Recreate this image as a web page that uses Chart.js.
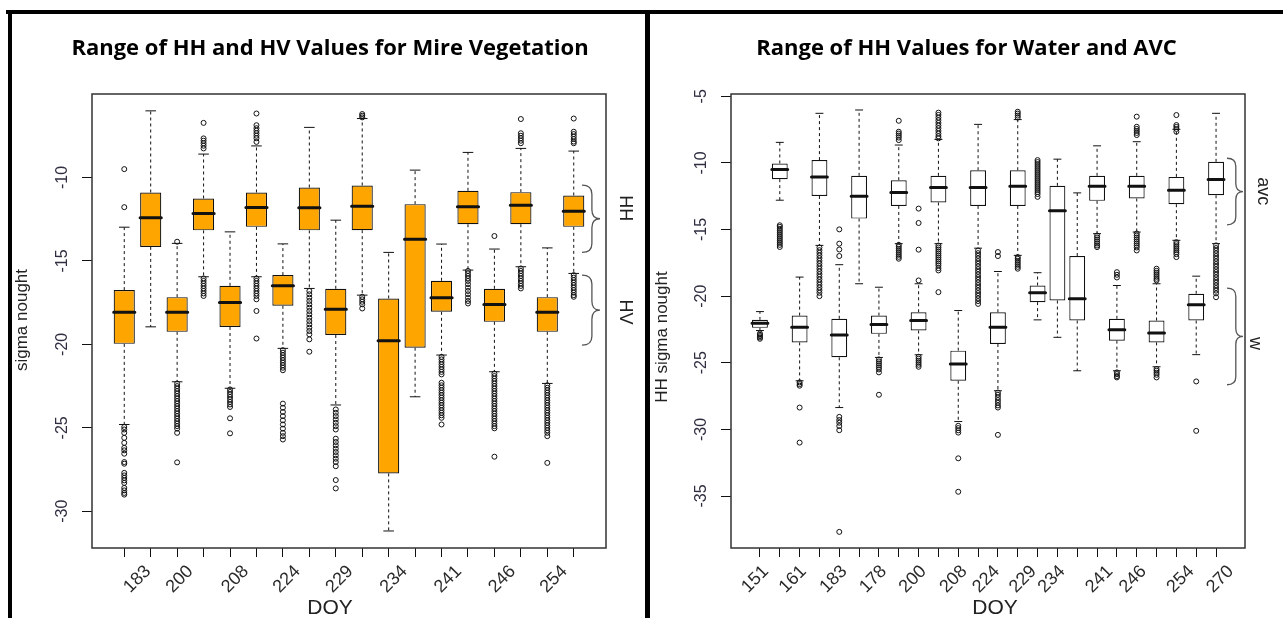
<!DOCTYPE html>
<html>
<head>
<meta charset="utf-8">
<script src="https://cdn.jsdelivr.net/npm/chart.js@4.4.1/dist/chart.umd.min.js"></script>
<style>
  html, body { margin: 0; padding: 0; background: #fff; }
  body { width: 1283px; height: 618px; position: relative; overflow: hidden; }
  canvas { position: absolute; top: 0; }
  #leftChart { left: 15px; }
  #rightChart { left: 650px; }
  .rule { position: absolute; background: #000; }
</style>
</head>
<body>
<canvas id="leftChart" width="630" height="618"></canvas>
<canvas id="rightChart" width="633" height="618"></canvas>
<div class="rule" style="left:6px;top:10px;width:1277px;height:4px"></div>
<div class="rule" style="left:8px;top:10px;width:4px;height:608px"></div>
<div class="rule" style="left:645px;top:10px;width:5px;height:608px"></div>
<script>
// LEFT PANEL - mire vegetation, HV / HH boxes side by side
const leftLow    = [-24.8, -18.95, -22.24, -15.95, -22.63, -15.95, -20.24, -16.65, -23.63, -17.05, -31.18, -23.14, -20.64, -15.55, -21.64, -15.35, -22.34, -15.75];
const leftQ1     = [-19.97, -14.16, -19.25, -13.17, -18.96, -12.96, -17.69, -13.17, -19.44, -13.16, -27.73, -20.2, -18.05, -12.8, -18.65, -12.8, -19.25, -12.96];
const leftMedian = [-18.08, -12.42, -18.08, -12.16, -17.49, -11.8, -16.49, -11.82, -17.9, -11.72, -19.78, -13.7, -17.21, -11.76, -17.61, -11.66, -18.08, -12.02];
const leftQ3     = [-16.75, -10.9, -17.17, -11.26, -16.49, -10.9, -15.85, -10.6, -16.67, -10.48, -17.25, -11.6, -16.19, -10.8, -16.67, -10.88, -17.17, -11.08];
const leftHigh   = [-12.98, -6.01, -13.95, -8.6, -13.26, -8.11, -13.98, -7.0, -12.56, -6.47, -14.49, -9.56, -13.99, -8.5, -14.29, -8.26, -14.22, -8.42];
const leftOutliers = [
  [-9.5, -11.78, -24.95, -25.1, -25.3, -25.6, -25.9, -26.2, -26.35, -26.55, -27.05, -27.15, -27.7, -27.85, -28.0, -28.15, -28.3, -28.6, -28.75, -28.9, -29.0],
  [],
  [-13.85, -22.35, -22.5, -22.65, -22.8, -22.95, -23.1, -23.25, -23.4, -23.55, -23.7, -23.85, -24.0, -24.15, -24.3, -24.45, -24.6, -24.75, -24.9, -25.05, -25.3, -27.07],
  [-6.73, -7.66, -7.8, -7.95, -8.1, -8.26, -16.05, -16.2, -16.35, -16.5, -16.65, -16.8, -16.95, -17.1],
  [-22.7, -22.85, -23.0, -23.15, -23.3, -23.45, -23.6, -23.75, -24.43, -25.33],
  [-6.17, -6.87, -7.05, -7.2, -7.35, -7.5, -7.65, -7.87, -16.05, -16.2, -16.35, -16.5, -16.65, -16.8, -16.95, -17.1, -17.3, -18.0, -19.65],
  [-20.35, -20.5, -20.65, -20.8, -20.95, -21.1, -21.25, -21.4, -21.55, -23.55, -23.8, -24.05, -24.3, -24.55, -24.8, -25.05, -25.3, -25.5, -25.7],
  [-16.8, -17.0, -17.2, -17.4, -17.6, -17.8, -18.0, -18.2, -18.4, -18.6, -18.8, -19.0, -19.2, -19.4, -19.7, -20.44],
  [-23.9, -24.1, -24.3, -24.5, -24.7, -24.9, -25.1, -25.65, -25.85, -26.05, -26.25, -26.45, -26.65, -26.85, -27.05, -27.3, -28.13, -28.63],
  [-6.2, -6.3, -6.4, -17.15, -17.3, -17.45, -17.6, -17.85],
  [],
  [],
  [-20.75, -20.9, -21.05, -21.2, -21.35, -21.5, -21.65, -21.8, -22.3, -22.45, -22.6, -22.75, -22.9, -23.05, -23.2, -23.35, -23.5, -23.65, -23.8, -23.95, -24.1, -24.25, -24.4, -24.8],
  [-15.6, -15.75, -15.9, -16.05, -16.2, -16.4, -16.6, -16.8, -17.0, -17.2, -17.4, -17.55],
  [-13.51, -21.75, -21.9, -22.05, -22.2, -22.35, -22.5, -22.65, -22.8, -22.95, -23.1, -23.25, -23.4, -23.55, -23.7, -23.85, -24.0, -24.15, -24.3, -24.45, -24.6, -24.75, -24.9, -25.03, -26.73],
  [-6.5, -7.35, -7.5, -7.65, -7.8, -7.95, -15.45, -15.6, -15.75, -15.9, -16.05, -16.2, -16.35, -16.5, -16.65],
  [-22.45, -22.6, -22.75, -22.9, -23.05, -23.2, -23.35, -23.5, -23.65, -23.8, -23.95, -24.1, -24.25, -24.4, -24.55, -24.7, -24.85, -25.0, -25.15, -25.3, -25.5, -27.1],
  [-6.47, -7.26, -7.4, -7.55, -7.7, -7.85, -7.95, -15.85, -16.0, -16.15, -16.3, -16.45, -16.6, -16.75, -16.9, -17.05, -17.15]
];
const leftYTicks  = [-30, -25, -20, -15, -10];
const leftLabels  = ['183', '200', '208', '224', '229', '234', '241', '246', '254'];
const leftLabelAt = [1.9, 3.5, 5.6, 7.55, 9.55, 11.6, 13.65, 15.7, 17.65];

// RIGHT PANEL - water (w) and AVC boxes
const rightLow    = [-22.58, -12.8, -26.35, -16.19, -28.36, -19.07, -24.6, -16.06, -24.4, -16.06, -29.41, -16.4, -27.1, -16.94, -21.78, -23.09, -25.6, -15.31, -25.6, -15.19, -25.3, -15.81, -24.39, -16.06];
const rightQ1     = [-22.38, -11.22, -23.47, -12.48, -24.59, -14.18, -22.83, -13.23, -22.58, -12.97, -26.35, -13.23, -23.59, -13.23, -20.45, -20.33, -21.83, -12.85, -23.34, -12.67, -23.47, -13.1, -21.83, -12.43];
const rightMedian = [-22.03, -10.49, -22.34, -11.05, -22.91, -12.5, -22.13, -12.23, -21.83, -11.85, -25.09, -11.85, -22.34, -11.75, -19.75, -13.6, -20.2, -11.75, -22.53, -11.75, -22.76, -12.05, -20.65, -11.25];
const rightQ3     = [-21.78, -10.04, -21.46, -9.79, -21.7, -10.97, -21.46, -11.3, -21.21, -10.97, -24.09, -10.55, -21.21, -10.55, -19.2, -11.72, -16.99, -10.97, -21.7, -10.97, -21.83, -11.05, -19.82, -9.92];
const rightHigh   = [-21.16, -8.46, -18.57, -6.28, -17.64, -6.03, -19.33, -8.66, -19.07, -8.24, -21.08, -7.11, -18.15, -6.75, -18.24, -9.72, -12.25, -8.72, -19.2, -8.41, -19.07, -7.48, -18.5, -6.28];
const rightOutliers = [
  [-22.8, -22.9, -23.0, -23.1, -23.2],
  [-14.68, -14.8, -14.95, -15.1, -15.25, -15.4, -15.55, -15.7, -15.85, -16.0, -16.15, -16.31],
  [-26.47, -26.6, -26.72, -28.36, -30.99],
  [-16.35, -16.55, -16.75, -16.95, -17.15, -17.35, -17.55, -17.75, -17.95, -18.15, -18.35, -18.55, -18.75, -18.95, -19.15, -19.35, -19.55, -19.75, -20.0],
  [-14.99, -16.06, -16.5, -16.99, -29.06, -29.3, -29.5, -29.75, -30.06, -37.69],
  [],
  [-24.75, -24.9, -25.05, -25.2, -25.35, -25.5, -25.72, -27.4],
  [-6.84, -7.66, -7.8, -7.95, -8.1, -8.29, -16.15, -16.3, -16.45, -16.6, -16.75, -16.9, -17.05, -17.19],
  [-13.43, -14.51, -16.51, -18.82, -24.55, -24.7, -24.85, -25.0, -25.15, -25.3],
  [-6.23, -6.4, -6.6, -6.8, -7.0, -7.2, -7.4, -7.6, -7.8, -8.0, -8.16, -16.2, -16.35, -16.5, -16.65, -16.8, -16.95, -17.1, -17.25, -17.4, -17.55, -17.7, -17.9, -18.07, -19.7],
  [-29.73, -29.9, -30.07, -30.24, -32.17, -34.68],
  [-16.57, -16.77, -16.97, -17.17, -17.37, -17.57, -17.77, -17.97, -18.17, -18.37, -18.57, -18.77, -18.97, -19.17, -19.37, -19.57, -19.77, -19.97, -20.17, -20.37, -20.58],
  [-16.69, -16.99, -27.23, -27.4, -27.6, -27.8, -28.0, -28.2, -28.36, -30.41],
  [-6.16, -6.3, -6.45, -6.6, -17.07, -17.2, -17.35, -17.5, -17.65, -17.8, -17.94],
  [-9.79, -9.94, -10.09, -10.24, -10.39, -10.54, -10.69, -10.84, -10.99, -11.14, -11.29, -11.44, -11.59, -11.74, -11.89, -12.04, -12.19, -12.34, -12.55],
  [],
  [],
  [-15.45, -15.6, -15.75, -15.9, -16.05, -16.2, -16.32],
  [-18.2, -18.4, -18.6, -25.72, -25.85, -26.0, -26.1],
  [-6.53, -7.29, -7.45, -7.6, -7.75, -7.91, -15.3, -15.45, -15.6, -15.75, -15.9, -16.05, -16.2, -16.35, -16.57],
  [-17.94, -18.1, -18.25, -18.4, -18.55, -18.7, -18.82, -25.47, -25.6, -25.75, -25.9, -26.1],
  [-6.41, -7.16, -7.3, -7.45, -7.66, -15.95, -16.1, -16.25, -16.4, -16.55, -16.7, -16.85, -17.07],
  [-26.4, -30.11],
  [-16.19, -16.39, -16.59, -16.79, -16.99, -17.19, -17.39, -17.59, -17.79, -17.99, -18.19, -18.39, -18.59, -18.79, -18.99, -19.19, -19.39, -19.59, -19.79, -20.08]
];
const rightYTicks  = [-35, -30, -25, -20, -15, -10, -5];
const rightLabels  = ['151', '161', '183', '178', '200', '208', '224', '229', '234', '241', '246', '254', '270'];
const rightLabelAt = [1.3, 3.2, 5.25, 7.25, 9.25, 11.3, 12.95, 14.8, 16.25, 18.65, 20.35, 22.75, 24.75];

const ink = '#111';
const sans = '"Liberation Sans", Arial, sans-serif';

// whisker segments q3->high and q1->low, null breaks the line between boxes
function whiskerPoints(low, q1, q3, high) {
  const pts = [];
  low.forEach((lo, i) => {
    const x = i + 1;
    pts.push({x: x, y: q3[i]}, {x: x, y: high[i]}, {x: x, y: null});
    pts.push({x: x, y: q1[i]}, {x: x, y: lo}, {x: x, y: null});
  });
  return pts;
}

// short horizontal segments centred on each box (caps, medians)
function flatSegments(values, half) {
  const pts = [];
  values.forEach((v, i) => {
    pts.push({x: i + 1 - half, y: v}, {x: i + 1 + half, y: v}, {x: i + 1, y: null});
  });
  return pts;
}

function drawBrace(ctx, x0, y0, y1, w) {
  const xm = x0 + w * 0.55, tip = x0 + w, mid = (y0 + y1) / 2;
  const r = Math.min(w * 0.5, (y1 - y0) / 4);
  ctx.beginPath();
  ctx.moveTo(x0, y0);
  ctx.quadraticCurveTo(xm, y0, xm, y0 + r);
  ctx.lineTo(xm, mid - r);
  ctx.quadraticCurveTo(xm, mid, tip, mid);
  ctx.quadraticCurveTo(xm, mid, xm, mid + r);
  ctx.lineTo(xm, y1 - r);
  ctx.quadraticCurveTo(xm, y1, x0, y1);
  ctx.stroke();
}

function notesPlugin(p) {
  return {
    id: 'notes',
    afterDraw(chart) {
      const ctx = chart.ctx, a = chart.chartArea, ys = chart.scales.y;
      ctx.save();
      ctx.strokeStyle = '#333';
      ctx.lineWidth = 1.5;
      ctx.strokeRect(a.left, a.top, a.right - a.left, a.bottom - a.top);

      ctx.strokeStyle = '#555';
      ctx.lineWidth = 1.3;
      p.braces.forEach(b => {
        drawBrace(ctx, a.right - b.inset, ys.getPixelForValue(b.from), ys.getPixelForValue(b.to), b.width);
      });

      ctx.fillStyle = '#222';
      ctx.textAlign = 'center';
      ctx.textBaseline = 'middle';
      p.notes.forEach(n => {
        const x = n.dx !== undefined ? a.right + n.dx : n.x;
        const y = n.value !== undefined ? ys.getPixelForValue(n.value) : n.y;
        ctx.save();
        ctx.font = n.size + 'px ' + sans;
        ctx.translate(x, y);
        ctx.rotate((n.rot || 0) * Math.PI / 180);
        ctx.fillText(n.text, 0, 0);
        ctx.restore();
      });
      ctx.restore();
    }
  };
}

function buildPanel(id, p) {
  const n = p.q1.length;
  const xMin = 0.5 - 0.04 * n;
  const xMax = n + 0.5 + 0.04 * n;
  const outPts = p.outliers.flatMap((list, i) => list.map(v => ({x: i + 1, y: v})));

  return new Chart(document.getElementById(id), {
    type: 'bar',
    data: {
      datasets: [{
        type: 'scatter',
        data: outPts,
        order: 0,
        pointStyle: 'circle',
        pointRadius: 2.5,
        pointBorderWidth: 1,
        pointBackgroundColor: 'rgba(0,0,0,0)',
        pointBorderColor: ink
      }, {
        type: 'line',
        data: flatSegments(p.median, 0.4),
        order: 1,
        borderColor: ink,
        borderWidth: 3,
        borderCapStyle: 'round',
        pointRadius: 0
      }, {
        type: 'bar',
        data: p.q1.map((v, i) => ({x: i + 1, y: [v, p.q3[i]]})),
        order: 2,
        backgroundColor: p.fill,
        borderColor: ink,
        borderWidth: 1.2,
        borderSkipped: false,
        barPercentage: 0.8,
        categoryPercentage: 1,
        grouped: false
      }, {
        type: 'line',
        data: flatSegments(p.high, 0.2).concat(flatSegments(p.low, 0.2)),
        order: 3,
        borderColor: ink,
        borderWidth: 1,
        pointRadius: 0
      }, {
        type: 'line',
        data: whiskerPoints(p.low, p.q1, p.q3, p.high),
        order: 4,
        borderColor: ink,
        borderWidth: 1,
        borderDash: [3, 3],
        pointRadius: 0
      }]
    },
    options: {
      responsive: false,
      animation: false,
      events: [],
      layout: { padding: 0 },
      plugins: {
        legend: { display: false },
        tooltip: { enabled: false },
        title: {
          display: true,
          text: p.title,
          color: '#000',
          font: { family: '"Open Sans", "Noto Sans", sans-serif', size: 22, weight: 'bold' },
          padding: { top: 36, bottom: 31.6 }
        }
      },
      scales: {
        x: {
          type: 'linear', position: 'bottom', weight: 0, min: xMin, max: xMax, offset: false,
          afterBuildTicks: s => { s.ticks = p.q1.map((_, i) => ({value: i + 1})); },
          afterFit: s => { s.height = 9; },
          ticks: { display: false },
          grid: { offset: false, drawOnChartArea: false, drawTicks: true, tickLength: 9, color: ink, lineWidth: 1 },
          border: { display: false }
        },
        xl: {
          type: 'linear', position: 'bottom', weight: 1, min: xMin, max: xMax, offset: false,
          afterBuildTicks: s => { s.ticks = p.labelAt.map(v => ({value: v})); },
          afterFit: s => { s.height = 61; },
          grid: { display: false, drawTicks: false, offset: false },
          border: { display: false },
          ticks: {
            autoSkip: false, minRotation: 45, maxRotation: 45, padding: 4,
            color: '#2a2a2a', font: { family: sans, size: 18 },
            callback: (v, i) => p.labels[i]
          }
        },
        y: {
          type: 'linear', position: 'left', min: p.yMin, max: p.yMax, beginAtZero: false,
          afterBuildTicks: s => { s.ticks = p.yTicks.map(v => ({value: v})); },
          afterFit: s => { s.width = p.axisWidth; },
          grid: { drawOnChartArea: false, drawTicks: true, tickLength: 10, color: ink, lineWidth: 1 },
          border: { display: false },
          ticks: {
            minRotation: 90, maxRotation: 90, crossAlign: 'center', padding: 8,
            color: '#2e2e40', font: { family: sans, size: 16 }
          }
        },
        yr: {
          type: 'linear', position: 'right', display: true,
          afterFit: s => { s.width = p.rightGap; },
          grid: { display: false },
          border: { display: false },
          ticks: { display: false }
        }
      }
    },
    plugins: [notesPlugin(p)]
  });
}

buildPanel('leftChart', {
  title: 'Range of HH and HV Values for Mire Vegetation',
  low: leftLow, q1: leftQ1, median: leftMedian, q3: leftQ3, high: leftHigh, outliers: leftOutliers,
  yTicks: leftYTicks, labels: leftLabels, labelAt: leftLabelAt,
  yMin: -32.2, yMax: -5.0,
  fill: '#FFA500',
  axisWidth: 77, rightGap: 39,
  braces: [
    { from: -10.46, to: -14.49, inset: 24, width: 18 },
    { from: -15.85, to: -20.05, inset: 24, width: 18 }
  ],
  notes: [
    { text: 'sigma nought', x: 7, y: 320, rot: -90, size: 17 },
    { text: 'DOY', x: 315, y: 608, size: 21 },
    { text: 'HH', dx: 19, value: -11.85, rot: 90, size: 18 },
    { text: 'HV', dx: 19, value: -18.06, rot: 90, size: 18 }
  ]
});

buildPanel('rightChart', {
  title: 'Range of HH Values for Water and AVC',
  low: rightLow, q1: rightQ1, median: rightMedian, q3: rightQ3, high: rightHigh, outliers: rightOutliers,
  yTicks: rightYTicks, labels: rightLabels, labelAt: rightLabelAt,
  yMin: -38.9, yMax: -4.83,
  fill: '#FFFFFF',
  axisWidth: 81, rightGap: 38,
  braces: [
    { from: -9.65, to: -14.65, inset: 18, width: 16 },
    { from: -19.4, to: -26.65, inset: 18, width: 16 }
  ],
  notes: [
    { text: 'HH sigma nought', x: 12, y: 337, rot: -90, size: 17 },
    { text: 'DOY', x: 345, y: 608, size: 21 },
    { text: 'avc', dx: 18, value: -12.13, rot: 90, size: 18 },
    { text: 'w', dx: 10, value: -23.55, rot: 90, size: 18 }
  ]
});
</script>
</body>
</html>
